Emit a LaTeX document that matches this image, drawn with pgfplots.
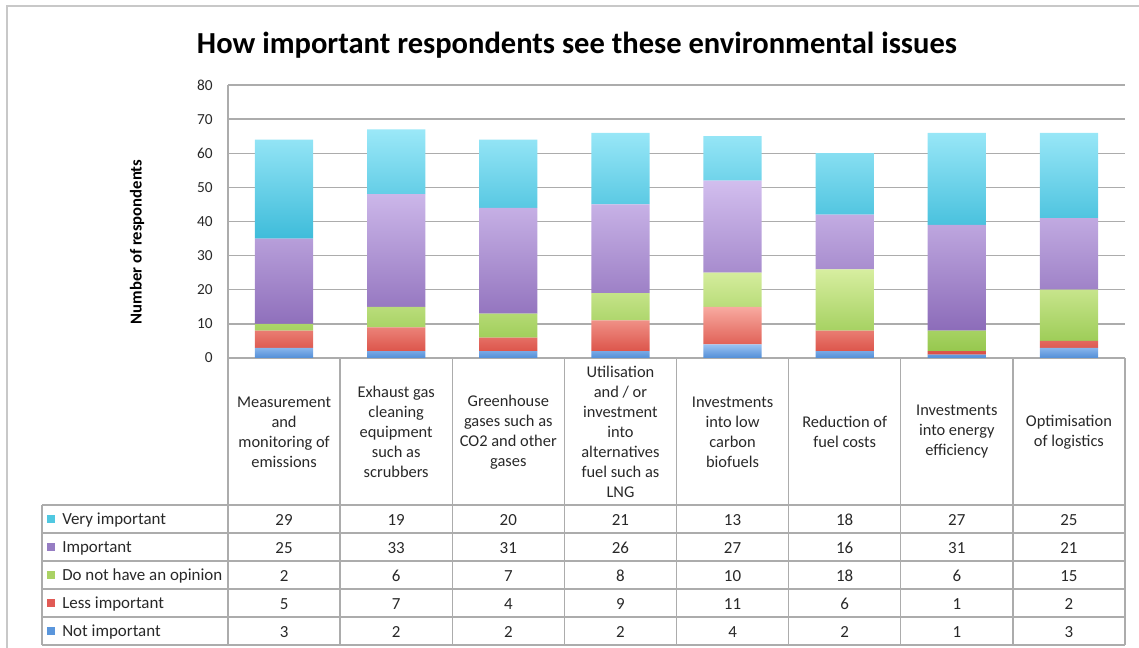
\documentclass[border=0pt]{standalone}
\usepackage{pgfplots}
\usepackage{pgfplotstable}
\pgfplotsset{compat=1.18}
\usepackage{fontspec}
\setmainfont{Carlito}

\definecolor{gridgray}{RGB}{172,172,172}
\definecolor{framegray}{RGB}{200,200,200}
\definecolor{txtgray}{RGB}{40,40,40}
\definecolor{viTop}{RGB}{155,232,248}
\definecolor{viBot}{RGB}{62,188,218}
\definecolor{impTop}{RGB}{210,190,238}
\definecolor{impBot}{RGB}{140,108,185}
\definecolor{dnoTop}{RGB}{215,238,160}
\definecolor{dnoBot}{RGB}{150,200,78}
\definecolor{lessTop}{RGB}{248,170,160}
\definecolor{lessBot}{RGB}{218,78,68}
\definecolor{nimpTop}{RGB}{155,195,242}
\definecolor{nimpBot}{RGB}{82,142,215}
\definecolor{viMid}{RGB}{80,200,225}
\definecolor{impMid}{RGB}{150,125,195}
\definecolor{dnoMid}{RGB}{170,210,100}
\definecolor{lessMid}{RGB}{225,90,85}
\definecolor{nimpMid}{RGB}{90,150,220}

\pgfplotstableread{
x vi imp dno less nimp
0 29 25 2 5 3
1 19 33 6 7 2
2 20 31 7 4 2
3 21 26 8 9 2
4 13 27 10 11 4
5 18 16 18 6 2
6 27 31 6 1 1
7 25 21 15 2 3
}\datatab

\begin{document}
\begin{tikzpicture}[x=0.75pt,y=0.75pt]
\path[use as bounding box] (0,0) rectangle (1139,648);
\draw[framegray, line width=1.2pt] (7,0) -- (7,642) -- (1139,642);
\node[font=\bfseries\fontsize{22.9}{27}\selectfont, text=black] at (577,603) {How important respondents see these environmental issues};

\begin{axis}[
  at={(171pt,217.5pt)}, anchor=south west,
  scale only axis, width=672.75pt, height=204.75pt,
  ybar stacked, bar width=0.52,
  xmin=-0.5, xmax=7.5, ymin=0, ymax=80,
  ytick={0,10,...,80}, xtick={0,...,7},
  xticklabels={
    {Measurement\\and\\monitoring of\\emissions},
    {Exhaust gas\\cleaning\\equipment\\such as\\scrubbers},
    {Greenhouse\\gases such as\\CO2 and other\\gases},
    {Utilisation\\and / or\\investment\\into\\alternatives\\fuel such as\\LNG},
    {Investments\\into low\\carbon\\biofuels},
    {Reduction of\\fuel costs},
    {Investments\\into energy\\efficiency},
    {Optimisation\\of logistics}},
  xticklabel style={anchor=center, yshift=-55.5pt, align=center, text=txtgray,
    font=\fontsize{12.3}{15}\selectfont},
  yticklabel style={xshift=-8pt, text=txtgray, font=\fontsize{11.5}{13}\selectfont},
  /pgf/number format/assume math mode=true,
  ymajorgrids, grid style={gridgray, line width=1.1pt},
  axis x line*=bottom, axis y line*=left,
  axis line style={gridgray, line width=1.1pt, -},
  major tick length=0pt,
  ylabel={Number of respondents},
  every axis y label/.style={at={(axis description cs:0,0.5)}, rotate=90, anchor=center,
    yshift=68.25pt, xshift=-15.4pt, font=\bfseries\fontsize{12.5}{14}\selectfont, text=black},
]
\addplot[draw=none, top color=nimpTop, bottom color=nimpBot] table[x=x, y=nimp] {\datatab};
\addplot[draw=none, top color=lessTop, bottom color=lessBot] table[x=x, y=less] {\datatab};
\addplot[draw=none, top color=dnoTop, bottom color=dnoBot] table[x=x, y=dno] {\datatab};
\addplot[draw=none, top color=impTop, bottom color=impBot] table[x=x, y=imp] {\datatab};
\addplot[draw=none, top color=viTop, bottom color=viBot] table[x=x, y=vi] {\datatab};
\end{axis}

% data table grid
\begin{scope}[gridgray, line width=1.1pt]
\foreach \k in {0,...,8} {
  \draw ({228+112.125*\k},290) -- ({228+112.125*\k},3);
}
\draw (42,143) -- (42,3);
\foreach \yy in {143,115,87,59,31,3} {
  \draw (42,\yy) -- (1125,\yy);
}
\end{scope}

% legend entries
\foreach \lab/\col [count=\i from 0] in {Very important/viMid, Important/impMid, Do not have an opinion/dnoMid, Less important/lessMid, Not important/nimpMid} {
  \fill[\col] (47,{129-28*\i-4}) rectangle (55,{129-28*\i+4});
  \node[anchor=west, inner sep=0pt, text=txtgray, font=\fontsize{12.7}{14}\selectfont] at (62,{128-28*\i}) {\lab};
}

% values
\foreach \s [count=\i from 0] in {vi,imp,dno,less,nimp} {
  \foreach \c in {0,...,7} {
    \pgfplotstablegetelem{\c}{\s}\of\datatab
    \node[text=txtgray, font=\fontsize{12.7}{14}\selectfont] at ({228+112.125*(\c+0.5)},{128-28*\i}) {\pgfplotsretval};
  }
}
\end{tikzpicture}
\end{document}
